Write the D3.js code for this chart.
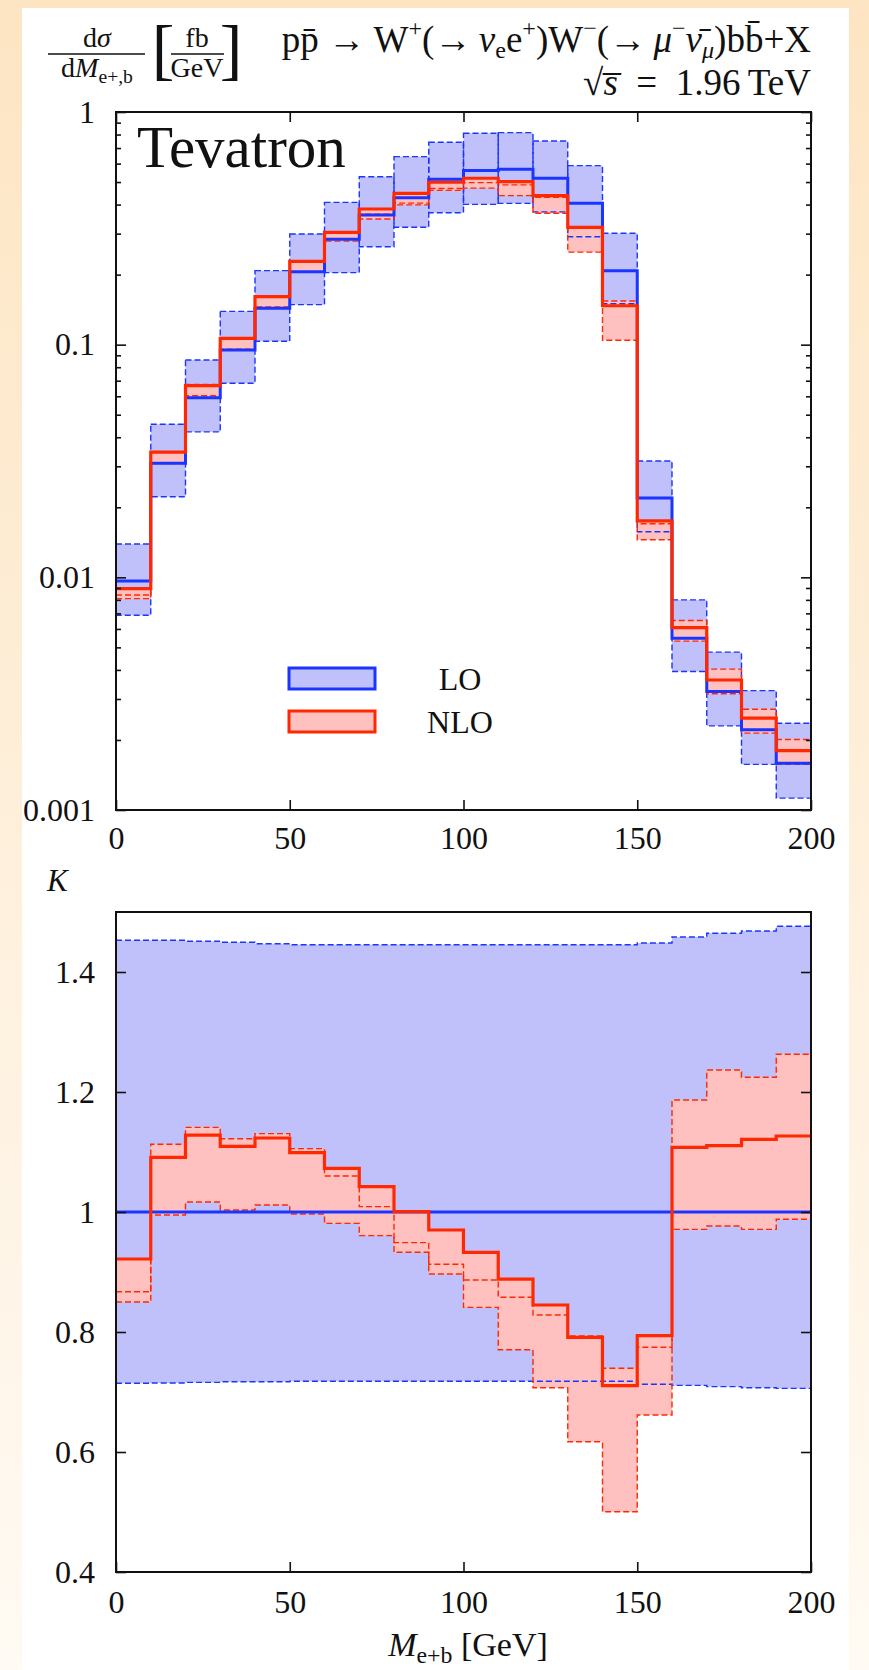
<!DOCTYPE html>
<html>
<head>
<meta charset="utf-8">
<script src="https://cdn.jsdelivr.net/npm/d3@7/dist/d3.min.js"></script>
<style>
  body { margin: 0; background: #fff; }
  svg text { font-family: "Liberation Serif", "DejaVu Serif", serif; fill: #111; }
</style>
</head>
<body>
<div id="chart"></div>
<script>
// bins in M(e+ b), lower edges [GeV], width 10
const binLow = [0, 10, 20, 30, 40, 50, 60, 70, 80, 90, 100, 110, 120, 130, 140, 150, 160, 170, 180, 190];
const binWidth = 10;
const xMax = 200;

// upper panel: dsigma/dM [fb/GeV]
const loCentral = [0.00965, 0.0309, 0.0592, 0.0949, 0.1433, 0.206, 0.284, 0.361, 0.428, 0.5135, 0.56, 0.567, 0.519, 0.405, 0.208, 0.0219, 0.00547, 0.00323, 0.00221, 0.00159];
const loHigh = [0.0139, 0.0455, 0.0859, 0.139, 0.208, 0.299, 0.409, 0.527, 0.643, 0.741, 0.81, 0.815, 0.75, 0.588, 0.301, 0.0316, 0.0080, 0.00477, 0.00326, 0.00236];
const loLow = [0.00687, 0.0222, 0.0422, 0.0683, 0.1034, 0.1486, 0.204, 0.2637, 0.3195, 0.369, 0.401, 0.405, 0.372, 0.291, 0.150, 0.0157, 0.00394, 0.0023, 0.00157, 0.001125];
const nloCentral = [0.00895, 0.0345, 0.0667, 0.1065, 0.161, 0.228, 0.304, 0.383, 0.447, 0.499, 0.519, 0.502, 0.437, 0.3195, 0.147, 0.01748, 0.00608, 0.00362, 0.00248, 0.0018];
const nloVar1 = [0.0084, 0.0347, 0.0675, 0.1065, 0.162, 0.227, 0.301, 0.364, 0.406, 0.469, 0.497, 0.486, 0.430, 0.3213, 0.154, 0.0170, 0.00652, 0.00403, 0.00271, 0.00201];
const nloVar2 = [0.0081, 0.0308, 0.0603, 0.0955, 0.1452, 0.2055, 0.2786, 0.347, 0.399, 0.4605, 0.471, 0.437, 0.367, 0.25, 0.1045, 0.0145, 0.00532, 0.00316, 0.00214, 0.00157];

// lower panel: K factor
const kLoCentral = [1, 1, 1, 1, 1, 1, 1, 1, 1, 1, 1, 1, 1, 1, 1, 1, 1, 1, 1, 1];
const kLoHigh = [1.4528, 1.4528, 1.4512, 1.4495, 1.4472, 1.4455, 1.4455, 1.4455, 1.4455, 1.4455, 1.4455, 1.4455, 1.4455, 1.4455, 1.4455, 1.4483, 1.4583, 1.4645, 1.4683, 1.4762];
const kLoLow = [0.7145, 0.715, 0.716, 0.717, 0.717, 0.718, 0.718, 0.718, 0.718, 0.718, 0.718, 0.718, 0.718, 0.718, 0.718, 0.713, 0.711, 0.709, 0.707, 0.706];
const kNloCentral = [0.9217, 1.091, 1.128, 1.1095, 1.1233, 1.0989, 1.0728, 1.0422, 1.0006, 0.97, 0.9328, 0.888, 0.845, 0.791, 0.7105, 0.794, 1.1078, 1.1106, 1.1211, 1.1267];
const kNloVar1 = [0.867, 1.113, 1.141, 1.122, 1.1306, 1.1056, 1.06, 1.0089, 0.949, 0.9128, 0.8867, 0.858, 0.8283, 0.7933, 0.7395, 0.7745, 1.1867, 1.2367, 1.2245, 1.2628];
const kNloVar2 = [0.850, 0.995, 1.0167, 1.0033, 1.0117, 0.9967, 0.981, 0.9606, 0.9328, 0.8967, 0.841, 0.7705, 0.707, 0.617, 0.5005, 0.6617, 0.971, 0.9767, 0.971, 0.9878];

// ticks
const xTicks = [0, 50, 100, 150, 200];
const topTicks = [0.001, 0.01, 0.1, 1];
const topTickLabels = ["0.001", "0.01", "0.1", "1"];
const kTicks = [0.4, 0.6, 0.8, 1, 1.2, 1.4];
const kTickLabels = ["0.4", "0.6", "0.8", "1", "1.2", "1.4"];
const legendNames = ["LO", "NLO"];

const blue = "#1a35ff";
const blueFill = "#c0c0fb";
const red = "#ff2800";
const redFill = "#ffc0c0";

const W = 869, H = 1670;
const left = 116, right = 811;
const topY0 = 112, topY1 = 810;
const kY0 = 912, kY1 = 1572;

const svg = d3.select("#chart").append("svg")
    .attr("width", W)
    .attr("height", H);

// page background
const grad = svg.append("defs").append("linearGradient")
    .attr("id", "bg").attr("x1", 0).attr("y1", 0).attr("x2", 0).attr("y2", 1);
grad.append("stop").attr("offset", "0%").attr("stop-color", "#fde5c3");
grad.append("stop").attr("offset", "100%").attr("stop-color", "#fffaf3");
svg.append("rect").attr("width", W).attr("height", H).attr("fill", "url(#bg)");
svg.append("rect").attr("x", 22).attr("y", 8).attr("width", 827).attr("height", H).attr("fill", "#fff");

const x = d3.scaleLinear().domain([0, xMax]).range([left, right]);
const yTop = d3.scaleLog().domain([0.001, 1]).range([topY1, topY0]);
const yK = d3.scaleLinear().domain([0.4, 1.5]).range([kY1, kY0]);

function steps(vals) {
    const pts = binLow.map((b, i) => [b, vals[i]]);
    pts.push([xMax, vals[vals.length - 1]]);
    return pts;
}

function stepLine(y) {
    return d3.line().curve(d3.curveStepAfter).x(d => x(d[0])).y(d => y(d[1]));
}

function bandRows(lo, hi) {
    const rows = binLow.map((b, i) => ({ x: b, lo: lo[i], hi: hi[i] }));
    rows.push({ x: xMax, lo: lo[lo.length - 1], hi: hi[hi.length - 1] });
    return rows;
}

function stepArea(y) {
    return d3.area().curve(d3.curveStepAfter).x(d => x(d.x)).y0(d => y(d.lo)).y1(d => y(d.hi));
}

const nloMin = binLow.map((b, i) => d3.min([nloCentral[i], nloVar1[i], nloVar2[i]]));
const nloMax = binLow.map((b, i) => d3.max([nloCentral[i], nloVar1[i], nloVar2[i]]));
const kNloMin = binLow.map((b, i) => d3.min([kNloCentral[i], kNloVar1[i], kNloVar2[i]]));
const kNloMax = binLow.map((b, i) => d3.max([kNloCentral[i], kNloVar1[i], kNloVar2[i]]));

// ---------------- upper panel ----------------
svg.append("clipPath").attr("id", "clipTop").append("rect")
    .attr("x", left).attr("y", topY0).attr("width", right - left).attr("height", topY1 - topY0);

const gTop = svg.append("g").attr("clip-path", "url(#clipTop)");

// LO band boxes
gTop.selectAll(".loBox")
    .data(binLow)
    .enter()
    .append("rect")
    .attr("class", "loBox")
    .attr("x", d => x(d))
    .attr("width", d => x(d + binWidth) - x(d))
    .attr("y", (d, i) => yTop(loHigh[i]))
    .attr("height", (d, i) => yTop(loLow[i]) - yTop(loHigh[i]))
    .attr("fill", blueFill);

gTop.selectAll(".nloBox")
    .data(binLow)
    .enter()
    .append("rect")
    .attr("class", "nloBox")
    .attr("x", d => x(d))
    .attr("width", d => x(d + binWidth) - x(d))
    .attr("y", (d, i) => yTop(nloMax[i]))
    .attr("height", (d, i) => yTop(nloMin[i]) - yTop(nloMax[i]))
    .attr("fill", redFill);

gTop.selectAll(".loBoxLine")
    .data(binLow)
    .enter()
    .append("rect")
    .attr("class", "loBoxLine")
    .attr("x", d => x(d))
    .attr("width", d => x(d + binWidth) - x(d))
    .attr("y", (d, i) => yTop(loHigh[i]))
    .attr("height", (d, i) => yTop(loLow[i]) - yTop(loHigh[i]))
    .attr("fill", "none")
    .attr("stroke", blue)
    .attr("stroke-width", 1.4)
    .attr("stroke-dasharray", "6,3");

[nloVar1, nloVar2].forEach(v => {
    gTop.append("path")
        .attr("d", stepLine(yTop)(steps(v)))
        .attr("fill", "none")
        .attr("stroke", red)
        .attr("stroke-width", 1.4)
        .attr("stroke-dasharray", "6,3");
});

gTop.append("path")
    .attr("d", stepLine(yTop)(steps(loCentral)))
    .attr("fill", "none")
    .attr("stroke", blue)
    .attr("stroke-width", 3);

gTop.append("path")
    .attr("d", stepLine(yTop)(steps(nloCentral)))
    .attr("fill", "none")
    .attr("stroke", red)
    .attr("stroke-width", 3.2);

// legend
const legend = svg.append("g");
legend.selectAll("rect")
    .data(legendNames)
    .enter()
    .append("rect")
    .attr("x", 289)
    .attr("y", (d, i) => 668 + i * 43)
    .attr("width", 86)
    .attr("height", 21)
    .attr("fill", (d, i) => i === 0 ? blueFill : redFill)
    .attr("stroke", (d, i) => i === 0 ? blue : red)
    .attr("stroke-width", 3);
legend.selectAll("text")
    .data(legendNames)
    .enter()
    .append("text")
    .attr("x", 460)
    .attr("y", (d, i) => 690 + i * 43)
    .attr("text-anchor", "middle")
    .style("font-size", "32px")
    .text(d => d);

svg.append("text")
    .attr("x", 137)
    .attr("y", 167)
    .style("font-size", "59px")
    .text("Tevatron");

// frame + axes upper
svg.append("rect")
    .attr("x", left).attr("y", topY0)
    .attr("width", right - left).attr("height", topY1 - topY0)
    .attr("fill", "none").attr("stroke", "#111").attr("stroke-width", 2);

const minorTop = yTop.ticks().filter(t => !topTicks.includes(t));

function styleAxis(g) {
    g.selectAll(".domain").remove();
    g.selectAll("line").attr("stroke", "#111").attr("stroke-width", 1.6);
    g.selectAll("text").style("font-size", "32px").attr("fill", "#111")
        .style("font-family", "'Liberation Serif', serif");
}

svg.append("g").attr("transform", `translate(${left},0)`)
    .call(d3.axisLeft(yTop).tickValues(topTicks).tickFormat((d, i) => topTickLabels[i])
        .tickSizeInner(-10).tickSizeOuter(0).tickPadding(21))
    .call(styleAxis);
svg.append("g").attr("transform", `translate(${left},0)`)
    .call(d3.axisLeft(yTop).tickValues(minorTop).tickFormat("")
        .tickSizeInner(-5).tickSizeOuter(0))
    .call(styleAxis);
svg.append("g").attr("transform", `translate(${right},0)`)
    .call(d3.axisRight(yTop).tickValues(topTicks).tickFormat("")
        .tickSizeInner(-10).tickSizeOuter(0))
    .call(styleAxis);
svg.append("g").attr("transform", `translate(${right},0)`)
    .call(d3.axisRight(yTop).tickValues(minorTop).tickFormat("")
        .tickSizeInner(-5).tickSizeOuter(0))
    .call(styleAxis);
svg.append("g").attr("transform", `translate(0,${topY1})`)
    .call(d3.axisBottom(x).tickValues(xTicks).tickSizeInner(-10).tickSizeOuter(0).tickPadding(16))
    .call(styleAxis);
svg.append("g").attr("transform", `translate(0,${topY0})`)
    .call(d3.axisTop(x).tickValues(xTicks).tickFormat("").tickSizeInner(-10).tickSizeOuter(0))
    .call(styleAxis);

// ---------------- lower panel (K) ----------------
svg.append("clipPath").attr("id", "clipK").append("rect")
    .attr("x", left).attr("y", kY0).attr("width", right - left).attr("height", kY1 - kY0);

const gK = svg.append("g").attr("clip-path", "url(#clipK)");

gK.append("path")
    .attr("d", stepArea(yK)(bandRows(kLoLow, kLoHigh)))
    .attr("fill", blueFill);

gK.append("path")
    .attr("d", stepArea(yK)(bandRows(kNloMin, kNloMax)))
    .attr("fill", redFill);

[kLoHigh, kLoLow].forEach(v => {
    gK.append("path")
        .attr("d", stepLine(yK)(steps(v)))
        .attr("fill", "none")
        .attr("stroke", blue)
        .attr("stroke-width", 1.4)
        .attr("stroke-dasharray", "6,3");
});

[kNloVar1, kNloVar2].forEach(v => {
    gK.append("path")
        .attr("d", stepLine(yK)(steps(v)))
        .attr("fill", "none")
        .attr("stroke", red)
        .attr("stroke-width", 1.4)
        .attr("stroke-dasharray", "6,3");
});

gK.append("path")
    .attr("d", stepLine(yK)(steps(kLoCentral)))
    .attr("fill", "none")
    .attr("stroke", blue)
    .attr("stroke-width", 3);

gK.append("path")
    .attr("d", stepLine(yK)(steps(kNloCentral)))
    .attr("fill", "none")
    .attr("stroke", red)
    .attr("stroke-width", 3.2);

svg.append("rect")
    .attr("x", left).attr("y", kY0)
    .attr("width", right - left).attr("height", kY1 - kY0)
    .attr("fill", "none").attr("stroke", "#111").attr("stroke-width", 2);

svg.append("g").attr("transform", `translate(${left},0)`)
    .call(d3.axisLeft(yK).tickValues(kTicks).tickFormat((d, i) => kTickLabels[i])
        .tickSizeInner(-10).tickSizeOuter(0).tickPadding(21))
    .call(styleAxis);
svg.append("g").attr("transform", `translate(${right},0)`)
    .call(d3.axisRight(yK).tickValues(kTicks).tickFormat("")
        .tickSizeInner(-10).tickSizeOuter(0))
    .call(styleAxis);
svg.append("g").attr("transform", `translate(0,${kY1})`)
    .call(d3.axisBottom(x).tickValues(xTicks).tickSizeInner(-10).tickSizeOuter(0).tickPadding(18))
    .call(styleAxis);

// ---------------- texts ----------------
function richText(x0, y0, anchor, size, parts, sub) {
    const t = svg.append("text")
        .attr("x", x0).attr("y", y0)
        .attr("text-anchor", anchor)
        .style("font-size", size + "px");
    let cur = 0;
    parts.forEach(p => {
        const sh = (p.sh || 0) * size;
        const ts = t.append("tspan").attr("dy", sh - cur).text(p.t);
        if (p.sh) ts.style("font-size", (size * (sub || 0.7)) + "px");
        if (p.it) ts.style("font-style", "italic");
        cur = sh;
    });
    return t;
}

const SUP = -0.42, SUB = 0.22;

richText(811, 52, "end", 37, [
    { t: "pp\u0304 \u2192 W" }, { t: "+", sh: SUP }, { t: "(\u2192\u2009" }, { t: "\u03bd", it: true },
    { t: "e", sh: 0.17 }, { t: "e" }, { t: "+", sh: SUP }, { t: ")W" }, { t: "\u2212", sh: SUP },
    { t: "(\u2192\u2009" }, { t: "\u03bc", it: true }, { t: "\u2212", sh: SUP }, { t: "\u03bd\u0304", it: true },
    { t: "\u03bc", sh: 0.17, it: true }, { t: ")bb\u0304+X" }
], 0.65);

richText(811, 95, "end", 37, [
    { t: "\u221a" }, { t: "s\u0305", it: true }, { t: "\u2002=\u20021.96\u2009TeV" }
]);

// d sigma / d M
richText(97, 47, "middle", 28, [{ t: "d" }, { t: "\u03c3", it: true }]);
richText(97, 77, "middle", 28, [{ t: "d" }, { t: "M", it: true }, { t: "e+,b", sh: SUB }]);
svg.append("line").attr("x1", 48).attr("x2", 145).attr("y1", 54).attr("y2", 54)
    .attr("stroke", "#111").attr("stroke-width", 1.4);

svg.append("text").attr("x", 163).attr("y", 72).attr("text-anchor", "middle")
    .style("font-size", "68px").text("[");
svg.append("text").attr("x", 231).attr("y", 72).attr("text-anchor", "middle")
    .style("font-size", "68px").text("]");
richText(197, 47, "middle", 28, [{ t: "fb" }]);
richText(197, 77, "middle", 28, [{ t: "GeV" }]);
svg.append("line").attr("x1", 171).attr("x2", 224).attr("y1", 54).attr("y2", 54)
    .attr("stroke", "#111").attr("stroke-width", 1.4);

richText(47, 891, "start", 31, [{ t: "K", it: true }]);

richText(468, 1656, "middle", 34, [{ t: "M", it: true }, { t: "e+b", sh: SUB }, { t: " [GeV]" }]);
</script>
</body>
</html>
